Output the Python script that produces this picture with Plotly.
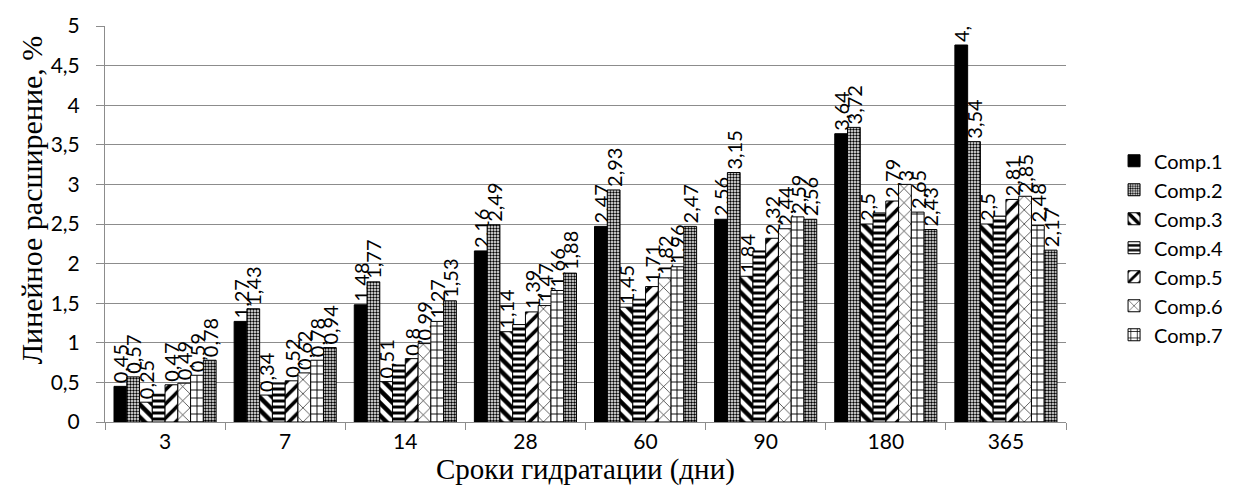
import plotly.graph_objects as go

# Hydration periods (days)
periods = ["3", "7", "14", "28", "60", "90", "180", "365"]

# Linear expansion, % for each composition
comp1 = [0.45, 1.27, 1.48, 2.16, 2.47, 2.56, 3.64, 4.76]
comp2 = [0.57, 1.43, 1.77, 2.49, 2.93, 3.15, 3.72, 3.54]
comp3 = [0.25, 0.34, 0.51, 1.14, 1.45, 1.84, 2.5, 2.5]
comp4 = [0.35, 0.49, 0.72, 1.23, 1.55, 2.16, 2.64, 2.6]
comp5 = [0.47, 0.52, 0.8, 1.39, 1.71, 2.32, 2.79, 2.81]
comp6 = [0.49, 0.62, 0.99, 1.47, 1.82, 2.44, 3.0, 2.85]
comp7 = [0.59, 0.78, 1.27, 1.66, 1.96, 2.59, 2.65, 2.48]
comp8 = [0.78, 0.94, 1.53, 1.88, 2.47, 2.56, 2.43, 2.17]

names = ["Comp.1", "Comp.2", "Comp.3", "Comp.4", "Comp.5", "Comp.6", "Comp.7", "Comp.8"]
series = [comp1, comp2, comp3, comp4, comp5, comp6, comp7, comp8]

y_ticks = [0, 0.5, 1, 1.5, 2, 2.5, 3, 3.5, 4, 4.5, 5]
y_ticktext = ["0", "0,5", "1", "1,5", "2", "2,5", "3", "3,5", "4", "4,5", "5"]

x_title = "Сроки гидратации (дни)"
y_title = "Линейное расширение, %"

# Fill style per composition: (base colour, pattern shape, pattern size, solidity)
styles = [
    ("black", "", 8, 0.3),
    ("white", ".", 3, 0.5),
    ("white", "\\", 9, 0.5),
    ("white", "-", 6, 0.5),
    ("white", "/", 10, 0.35),
    ("white", "x", 10, 0.12),
    ("white", "+", 8, 0.22),
    ("white", ".", 3, 0.55),
]
show_labels = [True, True, True, False, True, True, True, True]
in_legend = [True, True, True, True, True, True, True, False]

sans = "Lato, Carlito, sans-serif"
serif = "Liberation Serif, Times New Roman, serif"
label_font = dict(family=sans, size=20, color="black")


def fmt(v):
    return f"{v:g}".replace(".", ",")


fig = go.Figure()
for name, vals, (col, shape, psize, solid), lab, leg in zip(
    names, series, styles, show_labels, in_legend
):
    fig.add_trace(
        go.Bar(
            name=name,
            x=periods,
            y=vals,
            marker=dict(
                color=col,
                line=dict(color="black", width=1),
                pattern=dict(
                    shape=shape,
                    fgcolor="black",
                    bgcolor="white",
                    size=psize,
                    solidity=solid,
                    fillmode="overlay" if shape == "" else "replace",
                ),
            ),
            text=[fmt(v) for v in vals] if lab else None,
            textposition="outside" if lab else "none",
            textangle=-90,
            textfont=label_font,
            constraintext="none",
            cliponaxis=True,
            showlegend=leg,
        )
    )

fig.update_layout(
    width=1240,
    height=489,
    margin=dict(l=105, r=163, t=21, b=67),
    paper_bgcolor="white",
    plot_bgcolor="white",
    barmode="group",
    bargap=0.15,
    bargroupgap=0,
    font=dict(family=sans, size=20, color="black"),
    legend=dict(
        x=1.05,
        y=0.44,
        xanchor="left",
        yanchor="middle",
        font=dict(size=20, color="black"),
        bgcolor="rgba(0,0,0,0)",
    ),
    xaxis=dict(
        showline=True,
        linecolor="#8c8c8c",
        linewidth=1,
        ticks="outside",
        tickson="boundaries",
        ticklen=7,
        tickcolor="#8c8c8c",
        tickfont=dict(size=21),
        ticklabelstandoff=1,
        showgrid=False,
    ),
    yaxis=dict(
        range=[0, 5],
        tickvals=y_ticks,
        ticktext=y_ticktext,
        showline=True,
        linecolor="#8c8c8c",
        ticks="outside",
        ticklen=8,
        tickcolor="#8c8c8c",
        ticklabelstandoff=12,
        showgrid=True,
        gridcolor="#8c8c8c",
        gridwidth=1,
        zeroline=False,
        tickfont=dict(size=21),
    ),
    annotations=[
        dict(
            text=x_title,
            xref="paper",
            yref="paper",
            x=0.5,
            y=-0.12,
            xanchor="center",
            yanchor="middle",
            showarrow=False,
            font=dict(family=serif, size=29, color="black"),
        ),
        dict(
            text=y_title,
            xref="paper",
            yref="paper",
            x=-0.077,
            y=0.56,
            xanchor="center",
            yanchor="middle",
            textangle=-90,
            showarrow=False,
            font=dict(family=serif, size=30, color="black"),
        ),
    ],
)

fig.write_html("out.html")
